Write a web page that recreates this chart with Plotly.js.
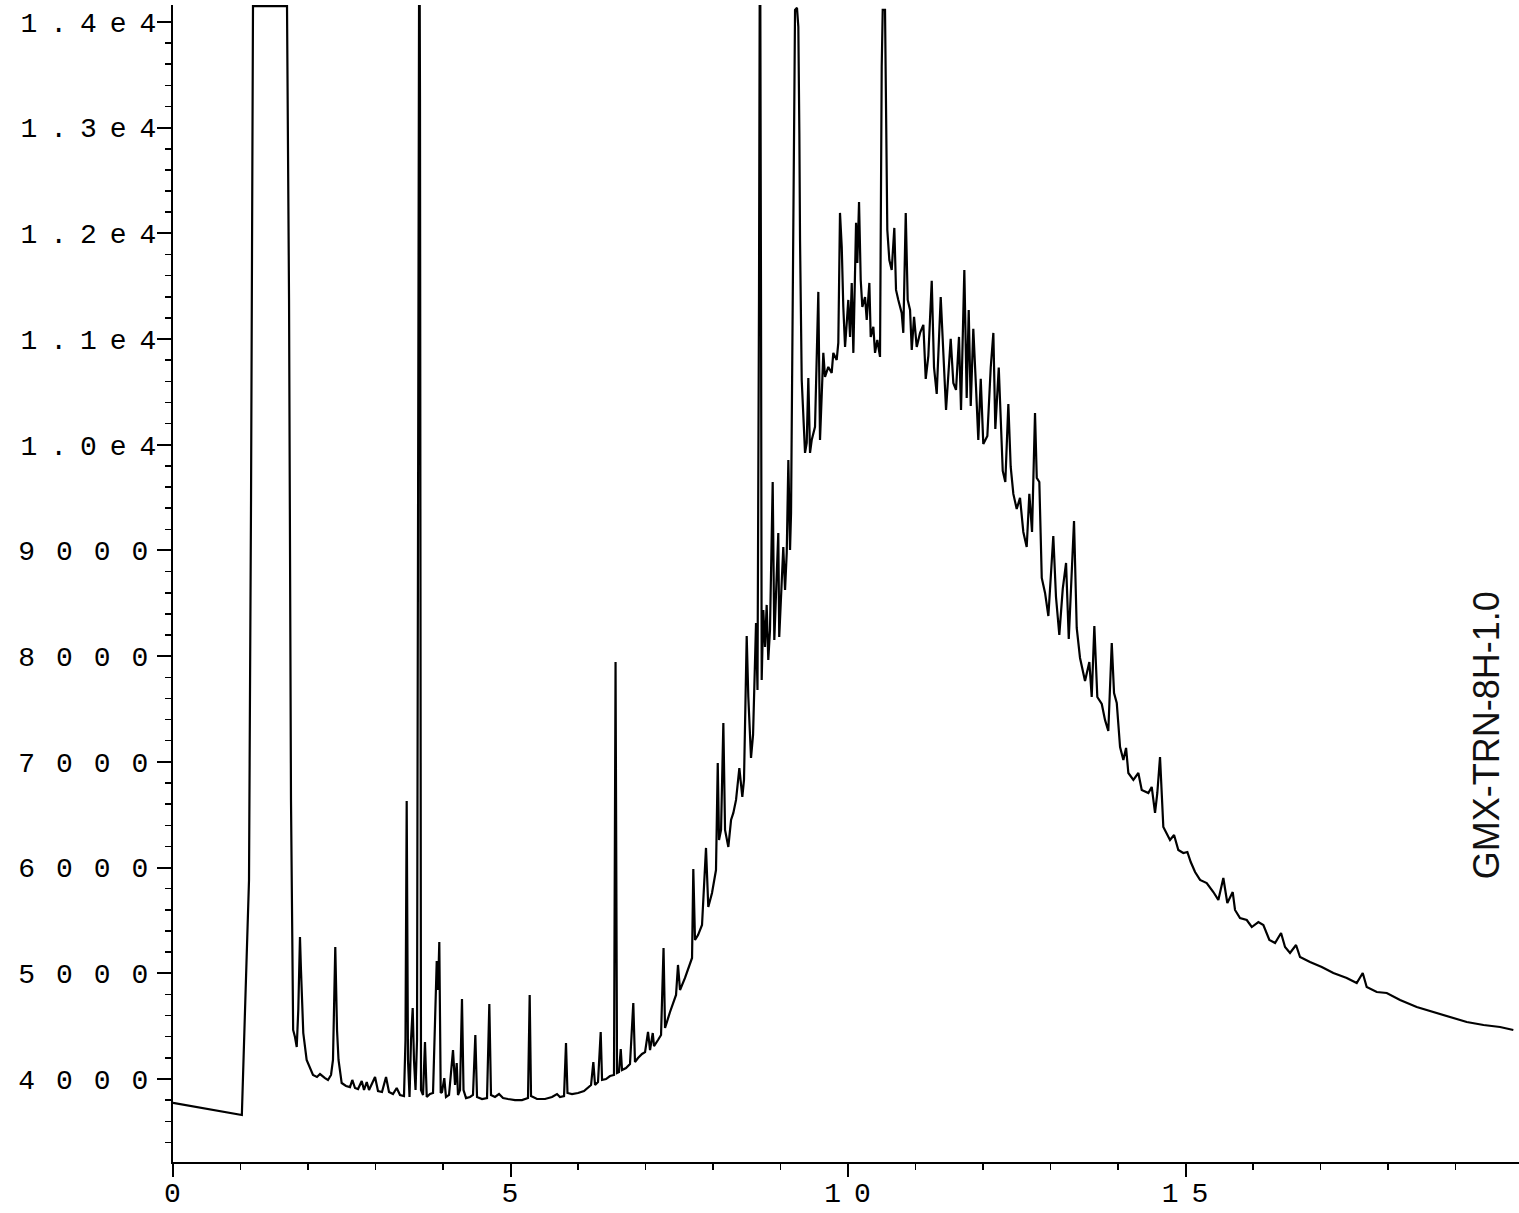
<!DOCTYPE html>
<html>
<head>
<meta charset="utf-8">
<script src="https://cdn.plot.ly/plotly-3.0.1.min.js"></script>
<style>
  html, body { margin: 0; padding: 0; background: #ffffff; }
  #chart { width: 1519px; height: 1213px; }
  .ytick text { letter-spacing: 13px; }
  .xtick text { letter-spacing: 13px; }
</style>
</head>
<body>
<div id="chart"></div>
<script>
// Retention time (min)
const retentionTime = [
  0.000, 0.190, 0.400, 0.700, 1.020, 1.067, 1.126, 1.156, 1.185, 1.689, 1.719, 1.748, 1.780, 1.807, 1.833,
  1.856, 1.881, 1.896, 1.916, 1.930, 1.980, 2.074, 2.133, 2.178, 2.252, 2.296, 2.341, 2.370, 2.404, 2.430,
  2.452, 2.499, 2.563, 2.622, 2.656, 2.696, 2.741, 2.796, 2.830, 2.870, 2.904, 2.993, 3.037, 3.096, 3.156,
  3.200, 3.259, 3.314, 3.363, 3.422, 3.444, 3.462, 3.481, 3.504, 3.526, 3.551, 3.570, 3.593, 3.615, 3.637,
  3.649, 3.659, 3.674, 3.704, 3.733, 3.759, 3.807, 3.852, 3.889, 3.907, 3.926, 3.945, 3.966, 3.985, 4.019,
  4.044, 4.089, 4.148, 4.178, 4.203, 4.222, 4.252, 4.281, 4.304, 4.341, 4.400, 4.444, 4.479, 4.504, 4.578,
  4.652, 4.686, 4.711, 4.770, 4.830, 4.889, 4.963, 5.067, 5.170, 5.259, 5.284, 5.304, 5.393, 5.511, 5.615,
  5.689, 5.733, 5.793, 5.822, 5.844, 5.911, 6.000, 6.089, 6.148, 6.193, 6.227, 6.252, 6.296, 6.336, 6.356,
  6.415, 6.474, 6.533, 6.556, 6.578, 6.607, 6.633, 6.652, 6.711, 6.770, 6.819, 6.844, 6.889, 6.948, 6.993,
  7.037, 7.067, 7.107, 7.126, 7.185, 7.230, 7.267, 7.289, 7.363, 7.422, 7.452, 7.481, 7.511, 7.585, 7.659,
  7.689, 7.708, 7.733, 7.778, 7.837, 7.896, 7.930, 7.985, 8.044, 8.070, 8.089, 8.119, 8.153, 8.178, 8.227,
  8.267, 8.301, 8.341, 8.390, 8.434, 8.459, 8.499, 8.523, 8.563, 8.593, 8.637, 8.659, 8.681, 8.696, 8.711,
  8.721, 8.745, 8.770, 8.795, 8.819, 8.844, 8.884, 8.908, 8.933, 8.967, 8.981, 9.018, 9.041, 9.067, 9.092,
  9.116, 9.141, 9.156, 9.166, 9.181, 9.190, 9.215, 9.244, 9.264, 9.279, 9.289, 9.314, 9.338, 9.363, 9.388,
  9.412, 9.437, 9.462, 9.511, 9.560, 9.585, 9.610, 9.634, 9.659, 9.708, 9.758, 9.782, 9.832, 9.856, 9.881,
  9.907, 9.930, 9.956, 9.981, 10.004, 10.030, 10.055, 10.079, 10.119, 10.138, 10.163, 10.188, 10.212, 10.252, 10.277,
  10.316, 10.336, 10.375, 10.400, 10.434, 10.474, 10.499, 10.514, 10.548, 10.563, 10.582, 10.612, 10.647, 10.686, 10.711,
  10.745, 10.795, 10.819, 10.855, 10.884, 10.919, 10.944, 10.978, 11.018, 11.067, 11.116, 11.151, 11.190, 11.240, 11.274,
  11.314, 11.373, 11.412, 11.452, 11.521, 11.560, 11.600, 11.644, 11.674, 11.723, 11.758, 11.788, 11.818, 11.856, 11.896,
  11.930, 11.966, 12.004, 12.064, 12.114, 12.153, 12.182, 12.233, 12.262, 12.292, 12.330, 12.375, 12.410, 12.449, 12.499,
  12.548, 12.597, 12.647, 12.686, 12.726, 12.770, 12.796, 12.834, 12.870, 12.919, 12.968, 13.041, 13.081, 13.130, 13.181,
  13.230, 13.270, 13.348, 13.388, 13.437, 13.511, 13.575, 13.610, 13.649, 13.693, 13.759, 13.807, 13.856, 13.907, 13.941,
  13.981, 14.030, 14.079, 14.119, 14.153, 14.227, 14.301, 14.351, 14.449, 14.499, 14.548, 14.582, 14.622, 14.671, 14.770,
  14.830, 14.893, 14.967, 15.027, 15.077, 15.141, 15.215, 15.314, 15.412, 15.486, 15.560, 15.619, 15.699, 15.733, 15.807,
  15.907, 15.981, 16.079, 16.153, 16.242, 16.326, 16.415, 16.474, 16.548, 16.637, 16.696, 16.844, 17.018, 17.190, 17.388,
  17.536, 17.625, 17.684, 17.833, 17.981, 18.178, 18.425, 18.671, 18.919, 19.166, 19.415, 19.659, 19.856
];

// Detector signal (counts)
const signal = [
  3775, 3754, 3726, 3697, 3659, 4653, 5883, 9478, 14150, 14150, 11370, 6640, 4464, 4397, 4303,
  4653, 5343, 5031, 4681, 4435, 4180, 4038, 4019, 4047, 4009, 3991, 4038, 4180, 5249, 4464,
  4180, 3962, 3934, 3924, 3991, 3915, 3905, 3981, 3896, 3972, 3896, 4019, 3886, 3877, 4019,
  3877, 3858, 3915, 3849, 3839, 4369, 6630, 4180, 3830, 4369, 4672, 4180, 3896, 4369, 13262,
  15500, 13262, 3896, 3849, 4350, 3830, 3858, 3868, 4747, 5116, 4842, 5296, 3868, 3877, 4009,
  3830, 3849, 4274, 3943, 4151, 3849, 3896, 4757, 3896, 3820, 3830, 3849, 4416, 3830, 3811,
  3820, 4710, 3849, 3830, 3858, 3820, 3811, 3801, 3801, 3820, 4795, 3839, 3811, 3811, 3830,
  3858, 3830, 3839, 4341, 3868, 3858, 3868, 3886, 3915, 3943, 4161, 3943, 3972, 4445, 3991,
  4000, 4028, 4038, 7945, 4057, 4066, 4284, 4085, 4104, 4142, 4719, 4161, 4199, 4237, 4255,
  4445, 4274, 4435, 4312, 4369, 4416, 5239, 4483, 4634, 4747, 4795, 5079, 4842, 4956, 5079,
  5145, 5987, 5315, 5362, 5457, 6186, 5627, 5760, 5977, 6990, 6261, 6356, 7368, 6356, 6195,
  6450, 6517, 6640, 6942, 6668, 6829, 8191, 7614, 7037, 7255, 8314, 7680, 11370, 15500, 11370,
  7775, 8437, 8087, 8485, 7964, 8248, 9648, 8153, 8532, 9166, 8182, 8626, 9033, 8626, 8976,
  9856, 9005, 9355, 10301, 11559, 12345, 14114, 14133, 13953, 12950, 11938, 10613, 10301, 9923, 10017,
  10632, 9923, 10045, 10169, 11446, 10045, 10547, 10869, 10642, 10736, 10680, 10869, 10802, 10963, 12193,
  11871, 11304, 10925, 11152, 11370, 11020, 11531, 10869, 12099, 11720, 12297, 11559, 11304, 11398, 11181,
  11531, 11020, 11115, 10869, 10992, 10831, 13575, 14114, 14114, 13262, 12032, 11748, 11654, 12051, 11465,
  11370, 11247, 11058, 12193, 11370, 11275, 10897, 11209, 10925, 11058, 11134, 10623, 10840, 11550, 10731,
  10481, 11398, 10802, 10329, 11001, 10585, 10519, 11020, 10329, 11654, 10443, 11275, 10367, 11096, 10547,
  10045, 10623, 10008, 10083, 10731, 11058, 10150, 10731, 10188, 9752, 9648, 10386, 9790, 9535, 9393,
  9497, 9175, 9033, 9535, 9175, 10301, 9686, 9648, 8740, 8598, 8380, 9137, 8560, 8201, 8636,
  8882, 8163, 9279, 8267, 7983, 7765, 7945, 7614, 8286, 7614, 7548, 7397, 7292, 8125, 7652,
  7557, 7141, 7018, 7132, 6895, 6829, 6895, 6734, 6706, 6763, 6517, 6706, 7046, 6384, 6261,
  6308, 6167, 6138, 6148, 6053, 5958, 5883, 5854, 5769, 5694, 5902, 5665, 5769, 5599, 5523,
  5504, 5438, 5485, 5457, 5315, 5287, 5381, 5249, 5192, 5268, 5154, 5107, 5060, 5003, 4956,
  4908, 5003, 4870, 4823, 4814, 4747, 4681, 4634, 4587, 4539, 4511, 4492, 4464
];

// Axis ticks
const yTickValues = [4000, 5000, 6000, 7000, 8000, 9000, 10000, 11000, 12000, 13000, 14000];
const yTickLabels = ['4000', '5000', '6000', '7000', '8000', '9000', '1.0e4', '1.1e4', '1.2e4', '1.3e4', '1.4e4'];
const xTickValues = [0, 5, 10, 15];
const xTickLabels = ['0', '5', '10', '15'];

const sampleLabel = 'GMX-TRN-8H-1.0';

const tickFont = { family: 'Liberation Mono, Courier New, monospace', size: 28, color: '#000000' };

const trace = {
  type: 'scatter',
  mode: 'lines',
  x: retentionTime,
  y: signal,
  line: { color: '#000000', width: 2.2 },
  hoverinfo: 'skip',
  showlegend: false
};

const layout = {
  width: 1519,
  height: 1213,
  margin: { l: 173, r: 0, t: 5, b: 51, pad: 0 },
  paper_bgcolor: '#ffffff',
  plot_bgcolor: '#ffffff',
  showlegend: false,
  hovermode: false,
  xaxis: {
    range: [0, 19.94],
    showgrid: false,
    zeroline: false,
    showline: true,
    linecolor: '#000000',
    linewidth: 2,
    ticks: 'outside',
    ticklen: 13,
    tickwidth: 2,
    tickcolor: '#000000',
    tickmode: 'array',
    tickvals: xTickValues,
    ticktext: xTickLabels,
    tickfont: tickFont,
    ticklabelshift: 6,
    ticklabelstandoff: -9,
    minor: { dtick: 1, tick0: 0, ticks: 'outside', ticklen: 6, tickwidth: 1.5, tickcolor: '#000000', showgrid: false }
  },
  yaxis: {
    range: [3215, 14160],
    showgrid: false,
    zeroline: false,
    showline: true,
    linecolor: '#000000',
    linewidth: 2,
    ticks: 'outside',
    ticklen: 14,
    tickwidth: 2,
    tickcolor: '#000000',
    tickmode: 'array',
    tickvals: yTickValues,
    ticktext: yTickLabels,
    tickfont: tickFont,
    ticklabelstandoff: -18,
    minor: { dtick: 200, tick0: 0, ticks: 'outside', ticklen: 6, tickwidth: 1.5, tickcolor: '#000000', showgrid: false }
  },
  annotations: [{
    text: sampleLabel,
    x: 19.47,
    y: 7255,
    xref: 'x',
    yref: 'y',
    showarrow: false,
    textangle: -90,
    font: { family: 'Liberation Sans, Arial, sans-serif', size: 36, color: '#111111' },
    xanchor: 'center',
    yanchor: 'middle'
  }]
};

Plotly.newPlot('chart', [trace], layout, { staticPlot: true, displayModeBar: false }).then(function (gd) {
  // wider spacing for the four-digit labels, as on the plotter output
  gd.querySelectorAll('.ytick text').forEach(function (t) {
    if (t.textContent.length === 4) t.style.letterSpacing = '21px';
  });
});
</script>
</body>
</html>
